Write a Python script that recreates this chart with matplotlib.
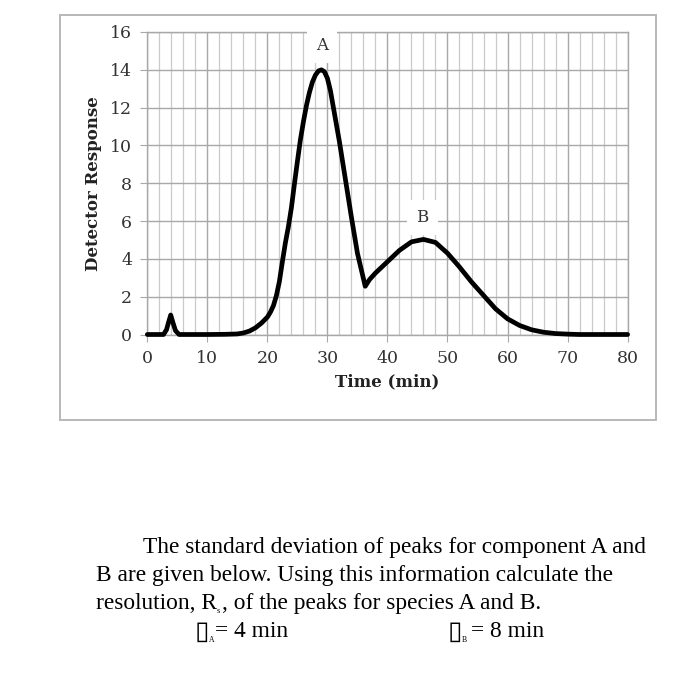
import matplotlib
matplotlib.use("Agg")
import matplotlib.pyplot as plt
from matplotlib.patches import Rectangle
from matplotlib.ticker import MultipleLocator

tiempo = [0, 2.7, 3.2, 3.5, 3.9, 4.3, 4.7, 5.3, 10, 13, 15, 16, 17, 18, 19, 20,
          20.5, 21, 21.5, 22, 22.5, 23, 23.5, 24, 24.5, 25, 25.5, 26, 26.5, 27,
          27.5, 28, 28.5, 29, 29.5, 30, 30.5, 31, 32, 33, 34, 35,
          36.3, 37, 38, 39, 40, 42, 44, 46, 48, 50, 52, 54, 56, 58, 60, 62, 64,
          66, 68, 70, 72, 80]
respuesta = [0, 0, 0.25, 0.6, 1.03, 0.6, 0.2, 0, 0, 0.01, 0.03, 0.08, 0.18, 0.35,
             0.6, 0.92, 1.18, 1.52, 2.05, 2.8, 3.85, 4.85, 5.7, 6.7, 7.95, 9.15,
             10.3, 11.25, 12.1, 12.8, 13.35, 13.72, 13.94, 14.0, 13.9, 13.55,
             12.9, 12.0, 10.2, 8.2, 6.2, 4.3, 2.55, 2.9, 3.25, 3.55, 3.85,
             4.45, 4.9, 5.03, 4.87, 4.3, 3.57, 2.78, 2.07, 1.36, 0.83, 0.48, 0.25,
             0.12, 0.05, 0.02, 0, 0]

picos = ["A", "B"]
picos_x = [29.1, 45.8]
picos_y = [15.3, 6.2]

x_ticks = [0, 10, 20, 30, 40, 50, 60, 70, 80]
y_ticks = [0, 2, 4, 6, 8, 10, 12, 14, 16]

texto = [
    "The standard deviation of peaks for component A and",
    "B are given below. Using this information calculate the",
    "resolution, R",
    ", of the peaks for species A and B.",
]
sigmas = [("A", "= 4 min"), ("B", "= 8 min")]

W, H = 693, 700


def px(x, y):
    return x / W, 1 - y / H


fig = plt.figure(figsize=(W / 100, H / 100), dpi=100)
fig.patch.set_facecolor("white")

# marco gris del grafico
x0, y0 = px(60, 420)
marco = Rectangle((x0, y0), 596 / W, 405 / H, transform=fig.transFigure,
                  fill=False, edgecolor="#b8b8b8", linewidth=1.4)
fig.add_artist(marco)

ax = fig.add_axes([147.3 / W, 1 - 334.5 / H, 480.3 / W, 302.5 / H])
ax.plot(tiempo, respuesta, color="black", linewidth=3.4,
        solid_joinstyle="round", solid_capstyle="round", zorder=3, clip_on=False)

ax.set_xlim(0, 80)
ax.set_ylim(0, 16)
ax.set_xticks(x_ticks)
ax.set_yticks(y_ticks)
ax.xaxis.set_minor_locator(MultipleLocator(2))
ax.grid(which="major", color="#a8a8a8", linewidth=1.0)
ax.grid(which="minor", axis="x", color="#cacaca", linewidth=0.9)
ax.set_axisbelow(True)
for s in ax.spines.values():
    s.set_color("#a8a8a8")
    s.set_linewidth(1.0)
ax.tick_params(which="major", length=5, color="#a8a8a8", pad=6,
               labelsize=12.5, labelcolor="#333333")
ax.tick_params(which="minor", length=0)
for lab in ax.get_xticklabels() + ax.get_yticklabels():
    lab.set_family("DejaVu Serif")

ax.set_xlabel("Time (min)", family="DejaVu Serif", fontweight="bold",
              fontsize=12, color="#222222", labelpad=5)
ax.set_ylabel("Detector Response", family="DejaVu Serif", fontweight="bold",
              fontsize=12, color="#222222", labelpad=6)

for nombre, xp, yp in zip(picos, picos_x, picos_y):
    ax.text(xp, yp, nombre, ha="center", va="center", fontsize=12,
            family="DejaVu Serif", color="#333333", zorder=4, clip_on=False,
            bbox=dict(boxstyle="square,pad=0.55", facecolor="white",
                      edgecolor="none"))

# enunciado debajo
fuente = dict(family="Liberation Serif", fontsize=16.8, color="black",
              va="baseline", ha="left")
fig.text(*px(143, 553), texto[0], **fuente)
fig.text(*px(96, 581), texto[1], **fuente)
t3 = fig.text(*px(96, 609), texto[2], **fuente)
fig.canvas.draw()
x_r = t3.get_window_extent().x1
fig.text(x_r / W, 1 - 613 / H, "s", family="Liberation Serif",
         fontsize=6, va="baseline", ha="left")
fig.text(x_r / W + 4.5 / W, 1 - 609 / H, texto[3], **fuente)

for (sub, resto), xs in zip(sigmas, [195, 448]):
    fig.text(*px(xs, 639), "\u25af", family="DejaVu Sans", fontsize=19,
             va="baseline", ha="left")
    fig.text(*px(xs + 14, 642), sub, family="Liberation Serif", fontsize=5.5,
             va="baseline", ha="left")
    fig.text(*px(xs + 20 if sub == "A" else xs + 23, 637), resto, **fuente)

fig.savefig("out.png", dpi=100)
